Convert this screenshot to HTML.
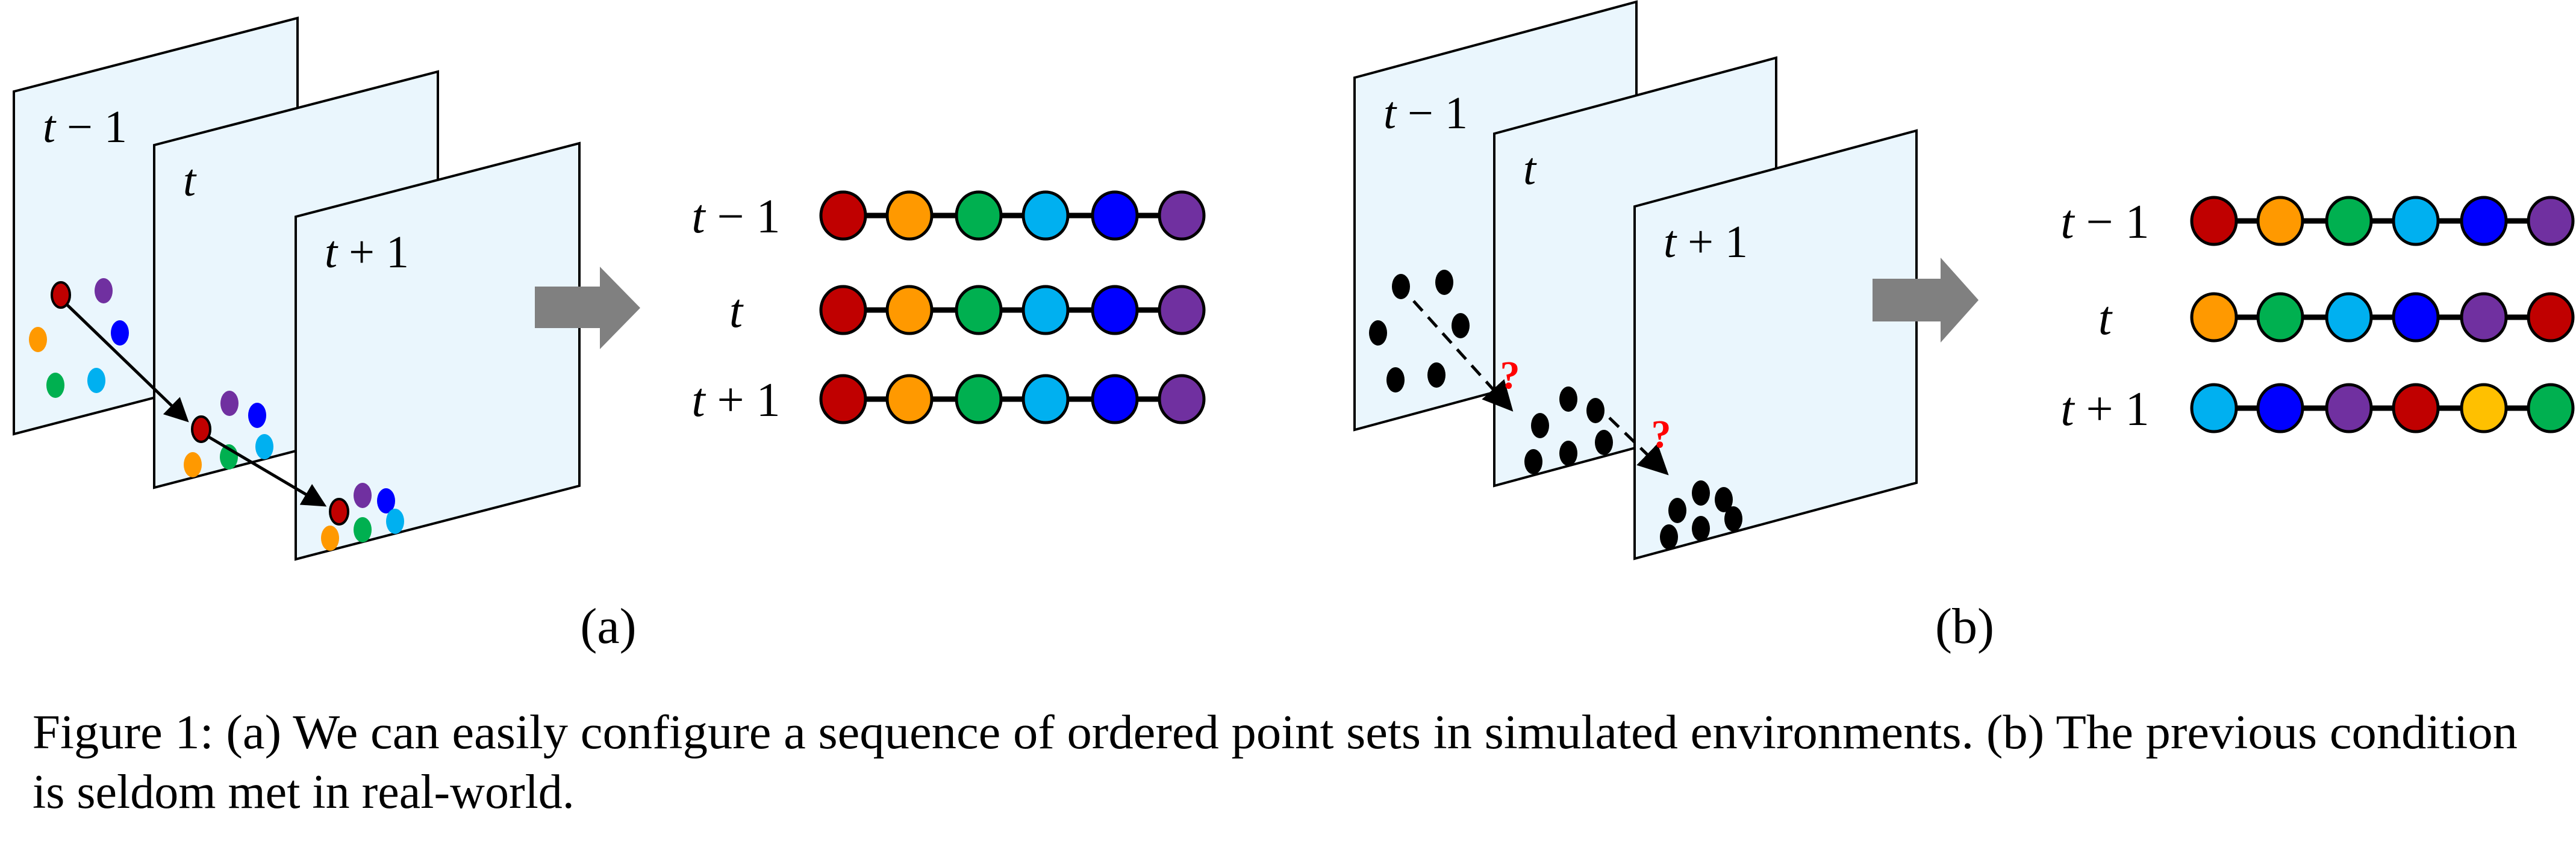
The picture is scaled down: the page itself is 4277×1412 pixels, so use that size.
<!DOCTYPE html>
<html><head><meta charset="utf-8"><style>
html,body{margin:0;padding:0;background:#fff}
svg{display:block}
text{font-family:"Liberation Serif",serif;fill:#000}
</style></head><body>
<svg width="4277" height="1412" viewBox="0 0 4277 1412" xmlns="http://www.w3.org/2000/svg">
<defs>
<marker id="ah" markerWidth="8" markerHeight="8" refX="7" refY="4" orient="auto" markerUnits="strokeWidth"><path d="M0,0 L8,4 L0,8 z" fill="#000"/></marker>
<marker id="ah2" markerWidth="10" markerHeight="10" refX="9" refY="5" orient="auto" markerUnits="strokeWidth"><path d="M0,0 L10,5 L0,10 z" fill="#000"/></marker>
</defs>
<g id="root"></g>
<text x="1010" y="1068" font-size="84" text-anchor="middle">(a)</text>
<text x="3262" y="1068" font-size="84" text-anchor="middle">(b)</text>
<text x="54" y="1243" font-size="80" textLength="4126" lengthAdjust="spacingAndGlyphs">Figure 1: (a) We can easily configure a sequence of ordered point sets in simulated environments. (b) The previous condition</text>
<text x="54" y="1342" font-size="80">is seldom met in real-world.</text>
</svg>
<script>
const colors = {R:'#c00000',O:'#ff9900',G:'#00b050',C:'#00b0f0',B:'#0000ff',P:'#7030a0',Y:'#ffc000'};
const seqA = [['R','O','G','C','B','P'],['R','O','G','C','B','P'],['R','O','G','C','B','P']];
const seqB = [['R','O','G','C','B','P'],['O','G','C','B','P','R'],['C','B','P','R','Y','G']];
const rowLabels = [['t','−','1'],['t','',''],['t','+','1']];
const NS='http://www.w3.org/2000/svg';
const root=document.getElementById('root');
function el(tag,attrs,parent){const e=document.createElementNS(NS,tag);for(const k in attrs)e.setAttribute(k,attrs[k]);(parent||root).appendChild(e);return e;}
function mathLabel(t,i){
  const a=document.createElementNS(NS,'tspan');a.setAttribute('font-style','italic');a.textContent=rowLabels[i][0];t.appendChild(a);
  if(rowLabels[i][1]){const b=document.createElementNS(NS,'tspan');b.textContent=' '+rowLabels[i][1]+' '+rowLabels[i][2];t.appendChild(b);}
}
function frames(ox,oy,w,h,sk,offs,labelPos,name){
  offs.forEach((o,i)=>{
    const x=ox+o[0],y=oy+o[1];
    const p=el('polygon',{points:`${x},${y} ${x+w},${y-sk} ${x+w},${y-sk+h} ${x},${y+h}`,fill:'#eaf6fd',stroke:'#000','stroke-width':4});
    
    
    const t=el('text',{x:x+labelPos[0],y:y+labelPos[1],'font-size':76});
    mathLabel(t,i);
    
    
  });
}
function dot(cx,cy,fill,stroke,name){
  const e=el('ellipse',{cx,cy,rx:15,ry:21,fill,stroke:stroke||'none','stroke-width':4});
  
  
}
function bigArrow(x1,x2,x3,y1,y2,hy1,hy2,name){
  const ym=(hy1+hy2)/2;
  const p=el('polygon',{points:`${x1},${y1} ${x2},${y1} ${x2},${hy1} ${x3},${ym} ${x2},${hy2} ${x2},${y2} ${x1},${y2}`,fill:'#808080'});
  
  
}
function seq(labelX,xs,ys,data,name){
  data.forEach((row,r)=>{
    const t=el('text',{x:labelX,y:ys[r]+28,'font-size':80,'text-anchor':'middle'});
    mathLabel(t,r);
    
    
    const l=el('line',{x1:xs[0],y1:ys[r],x2:xs[xs.length-1],y2:ys[r],stroke:'#000','stroke-width':9});
    
    
    row.forEach((c,i)=>{
      const e=el('ellipse',{cx:xs[i],cy:ys[r],rx:37,ry:39,fill:colors[c],stroke:'#000','stroke-width':5});
      
      
    });
  });
}

// Panel (a)
frames(23,152,471,569,122,[[0,0],[233,89],[468,208]],[48,84],'a');
const aDots=[[101,490,'R'],[172,483,'P'],[199,553,'B'],[63,564,'O'],[92,640,'G'],[160,632,'C'],
 [381,670,'P'],[427,690,'B'],[439,742,'C'],[380,759,'G'],[320,772,'O'],[334,713,'R'],
 [602,823,'P'],[641,832,'B'],[656,866,'C'],[602,880,'G'],[548,894,'O'],[563,850,'R']];
aDots.forEach((d,i)=>dot(d[0],d[1],colors[d[2]],d[2]==='R'?'#000':null,'a-point-'+(i+1)));
let ar=el('line',{x1:110,y1:505,x2:310,y2:698,stroke:'#000','stroke-width':5,'marker-end':'url(#ah)'});

ar=el('line',{x1:345,y1:725,x2:538,y2:839,stroke:'#000','stroke-width':5,'marker-end':'url(#ah)'});

bigArrow(888,996,1063,476,545,443,580,'a-gray-arrow');
seq(1222,[1400,1510,1625,1736,1851,1962],[358,515,663],seqA,'a');

// Panel (b)
frames(2249,129,468,585,126,[[0,0],[232,93],[465,214]],[48,84],'b');
const bDots=[[2326,476],[2398,469],[2288,553],[2425,541],[2317,631],[2385,623],
 [2604,663],[2649,682],[2557,707],[2663,735],[2604,753],[2546,767],
 [2824,819],[2862,830],[2785,848],[2878,862],[2824,878],[2771,892]];
bDots.forEach((d,i)=>dot(d[0],d[1],'#000',null,'b-point-'+(i+1)));
ar=el('line',{x1:2347,y1:500,x2:2509,y2:680,stroke:'#000','stroke-width':5,'stroke-dasharray':'22 14','marker-end':'url(#ah2)'});

ar=el('line',{x1:2672,y1:694,x2:2767,y2:786,stroke:'#000','stroke-width':5,'stroke-dasharray':'22 14','marker-end':'url(#ah2)'});

[[2507,645],[2758,743]].forEach((q,i)=>{
  const t=el('text',{x:q[0],y:q[1],'font-size':66,'font-weight':'bold','text-anchor':'middle',fill:'#ff0000'});
  t.style.fill='#ff0000';t.textContent='?';
  
  
});
bigArrow(3109,3222,3285,463,534,428,569,'b-gray-arrow');
seq(3495,[3676,3786,3900,4011,4124,4235],[367,527,678],seqB,'b');
</script>
</body></html>
